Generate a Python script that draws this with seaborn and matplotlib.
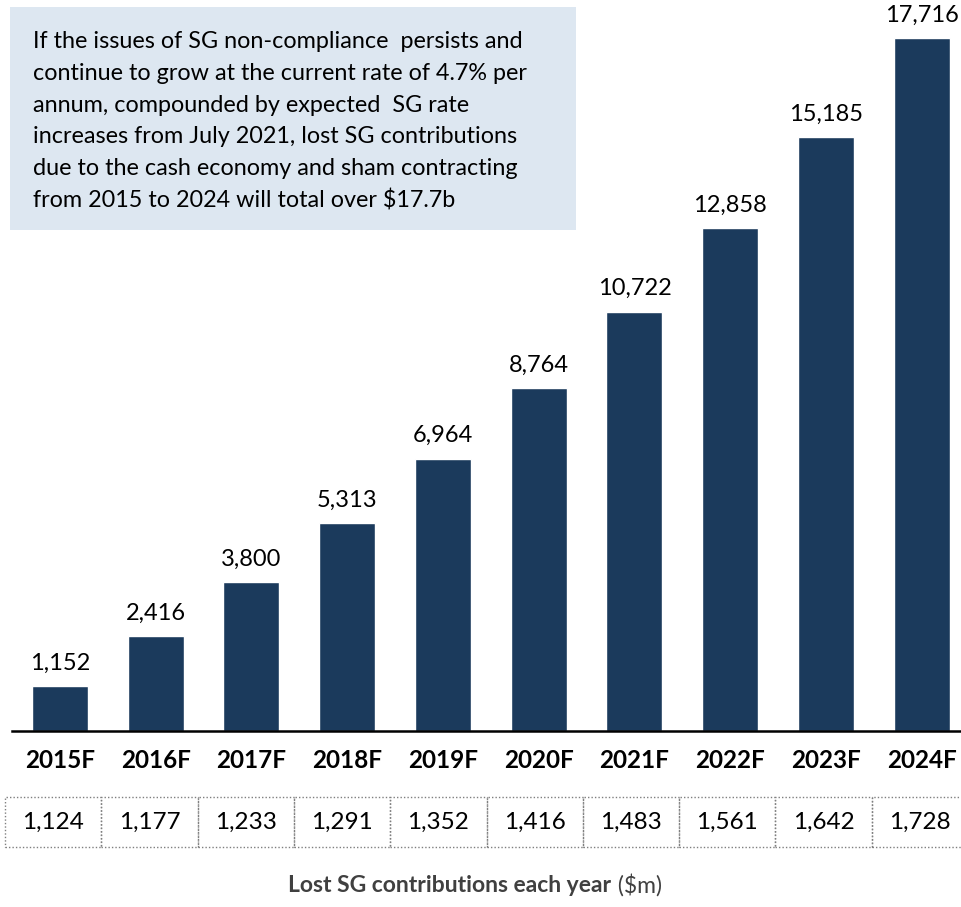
import matplotlib
matplotlib.use("Agg")
import matplotlib.pyplot as plt
from matplotlib.patches import Rectangle
import seaborn as sns
import pandas as pd

# data
years = ["2015F", "2016F", "2017F", "2018F", "2019F",
         "2020F", "2021F", "2022F", "2023F", "2024F"]
cumulative = [1152, 2416, 3800, 5313, 6964, 8764, 10722, 12858, 15185, 17716]
each_year = [1124, 1177, 1233, 1291, 1352, 1416, 1483, 1561, 1642, 1728]

note_lines = [
    "If the issues of SG non-compliance  persists and",
    "continue to grow at the current rate of 4.7% per",
    "annum, compounded by expected  SG rate",
    "increases from July 2021, lost SG contributions",
    "due to the cash economy and sham contracting",
    "from 2015 to 2024 will total over $17.7b",
]

bar_color = "#1b3a5c"
box_color = "#dde7f1"
W, H = 961, 907

sns.set_style("white")
plt.rcParams["font.family"] = ["Lato", "DejaVu Sans"]

df = pd.DataFrame({"year": years, "value": cumulative})

fig = plt.figure(figsize=(W / 100, H / 100), dpi=100)
ax = fig.add_axes([12 / W, 1 - 731 / H, (W - 12) / W, 731 / H])

sns.barplot(data=df, x="year", y="value", color=bar_color, width=0.585,
            saturation=1, ax=ax)

ax.set_xlim(-0.5, 9.41)
ax.set_ylim(0, 731 / 0.03912)
for s in ["top", "right", "left"]:
    ax.spines[s].set_visible(False)
ax.spines["bottom"].set_linewidth(1.8)
ax.spines["bottom"].set_color("black")
ax.set_yticks([])
ax.set_xlabel("")
ax.set_ylabel("")
ax.tick_params(axis="x", length=0, pad=13)
for lbl in ax.get_xticklabels():
    lbl.set_fontweight("bold")
    lbl.set_fontsize(17.5)
    lbl.set_color("black")

for i, v in enumerate(cumulative):
    ax.annotate(f"{v:,}", (i, v), xytext=(0, 9), textcoords="offset points",
                ha="center", va="bottom", fontsize=17, color="black",
                annotation_clip=False)

# table row of yearly values
top, bot = 1 - 797 / H, 1 - 847 / H
cell_w = 96.3
for i, v in enumerate(each_year):
    left = 5 + i * cell_w
    fig.patches.append(Rectangle((left / W, bot), cell_w / W, top - bot,
                                 transform=fig.transFigure, fill=False,
                                 edgecolor="#7f7f7f", linestyle=(0, (1, 1.5)),
                                 linewidth=1.0))
    fig.text((left + cell_w / 2) / W, (top + bot) / 2, f"{v:,}",
             ha="center", va="center", fontsize=17.5, color="black")

# note box
fig.patches.append(Rectangle((10 / W, 1 - 230 / H), 566 / W, 223 / H,
                             transform=fig.transFigure, facecolor=box_color,
                             edgecolor="none", zorder=0))
for k, line in enumerate(note_lines):
    fig.text(33 / W, 1 - (42 + k * 31.6) / H, line, ha="left", va="center",
             fontsize=16.8, color="black")

# bottom caption, bold part then normal part, centred together
r = fig.canvas.get_renderer()
t1 = fig.text(0, 1 - 885 / H, "Lost SG contributions each year", fontweight="bold",
              fontsize=16.5, color="#404040", va="center", ha="left")
t2 = fig.text(0, 1 - 885 / H, " ($m)", fontsize=16.5, color="#404040",
              va="center", ha="left")
w1 = t1.get_window_extent(r).width
w2 = t2.get_window_extent(r).width
x0 = (475 - (w1 + w2) / 2)
t1.set_x(x0 / W)
t2.set_x((x0 + w1) / W)

fig.savefig("out.png", dpi=100)
